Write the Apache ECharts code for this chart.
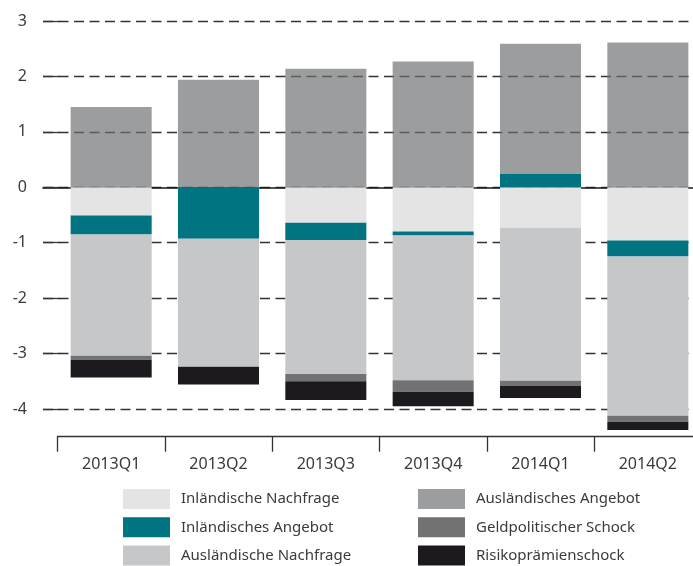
<!DOCTYPE html>
<html>
<head>
<meta charset="UTF-8">
<title>Schocks</title>
<script src="https://cdn.jsdelivr.net/npm/echarts@6/dist/echarts.min.js"></script>
<style>
	body { margin: 0; background: #fff; }
	#chart { width: 693px; height: 566px; }
</style>
</head>
<body>
	<div id="chart"></div>
	<script type="text/javascript">
		// quarters
		var quarters = [ '2013Q1', '2013Q2', '2013Q3', '2013Q4', '2014Q1', '2014Q2' ];

		// contributions
		var inlNachfrage = [ -0.51, 0, -0.64, -0.80, -0.73, -0.96 ];
		var inlAngebot = [ -0.34, -0.93, -0.31, -0.07, 0.24, -0.29 ];
		var auslNachfrage = [ -2.19, -2.31, -2.42, -2.61, -2.76, -2.87 ];
		var auslAngebot = [ 1.45, 1.94, 2.14, 2.27, 2.35, 2.61 ];
		var geldSchock = [ -0.07, 0, -0.13, -0.21, -0.09, -0.11 ];
		var risikoSchock = [ -0.32, -0.32, -0.34, -0.26, -0.22, -0.15 ];

		var yTicks = [ -4, -3, -2, -1, 0, 1, 2, 3 ];

		var names = [ 'Inländische Nachfrage', 'Inländisches Angebot',
				'Ausländische Nachfrage', 'Ausländisches Angebot',
				'Geldpolitischer Schock', 'Risikoprämienschock' ];

		var textColor = '#3a3a3a';
		var fontFamily = 'Noto Sans';

		var chart = echarts.init(document.getElementById('chart'));

		function barSeries(name, data, color, opacity) {
			return {
				name : name,
				type : 'bar',
				stack : 'total',
				xAxisIndex : 0,
				yAxisIndex : 0,
				barWidth : '75.5%',
				itemStyle : {
					color : color,
					opacity : opacity
				},
				emphasis : {
					disabled : true
				},
				data : data
			};
		}

		function legendAt(left, data) {
			return {
				orient : 'vertical',
				left : left,
				top : 489,
				padding : 0,
				icon : 'rect',
				itemWidth : 47,
				itemHeight : 20,
				itemGap : 8.3,
				textStyle : {
					color : textColor,
					fontSize : 15,
					padding : [ 0, 0, 0, 6 ]
				},
				selectedMode : false,
				data : data
			};
		}

		chart.setOption({
			animation : false,
			textStyle : {
				fontFamily : fontFamily
			},
			grid : [ {
				// bars, down to the category axis (-4.5); last category runs past the edge
				left : 57.5,
				width : 644,
				top : 21,
				height : 415.7,
				outerBoundsMode : 'none'
			}, {
				// gridlines and zero line
				left : 43,
				right : 0,
				top : 21,
				height : 388,
				outerBoundsMode : 'none'
			} ],
			legend : [ legendAt(123, names.slice(0, 3)),
					legendAt(418, names.slice(3)) ],
			xAxis : [ {
				type : 'category',
				gridIndex : 0,
				data : quarters,
				axisLine : {
					onZero : false,
					lineStyle : {
						color : '#333',
						width : 1.3
					}
				},
				axisTick : {
					show : true,
					interval : 0,
					alignWithLabel : false,
					length : 15,
					lineStyle : {
						color : '#333',
						width : 1.3
					}
				},
				axisLabel : {
					color : textColor,
					fontSize : 16,
					margin : 20
				}
			}, {
				type : 'value',
				gridIndex : 1,
				min : 0,
				max : 1,
				axisLine : {
					onZero : true,
					lineStyle : {
						color : '#1a1a1a',
						width : 1.6
					}
				},
				axisTick : {
					show : false
				},
				axisLabel : {
					show : false
				},
				splitLine : {
					show : false
				}
			} ],
			yAxis : [ {
				type : 'value',
				gridIndex : 0,
				min : -4.5,
				max : yTicks[yTicks.length - 1],
				show : false
			}, {
				type : 'value',
				gridIndex : 1,
				min : yTicks[0],
				max : yTicks[yTicks.length - 1],
				interval : 1,
				axisLine : {
					show : false
				},
				axisTick : {
					inside : true,
					length : 17,
					lineStyle : {
						color : '#333',
						width : 1.3
					}
				},
				axisLabel : {
					color : textColor,
					fontSize : 16,
					margin : 16
				},
				splitLine : {
					lineStyle : {
						color : '#333',
						width : 1.3,
						type : [ 10, 5.5 ]
					}
				}
			} ],
			series : [ barSeries(names[0], inlNachfrage, '#e3e4e3', 1),
					barSeries(names[1], inlAngebot, '#007480', 1),
					barSeries(names[2], auslNachfrage, '#c6c7c9', 1),
					barSeries(names[3], auslAngebot, '#6d6f72', 0.68),
					barSeries(names[4], geldSchock, '#727274', 1),
					barSeries(names[5], risikoSchock, '#1c1a1f', 1) ]
		});
	</script>
</body>
</html>
